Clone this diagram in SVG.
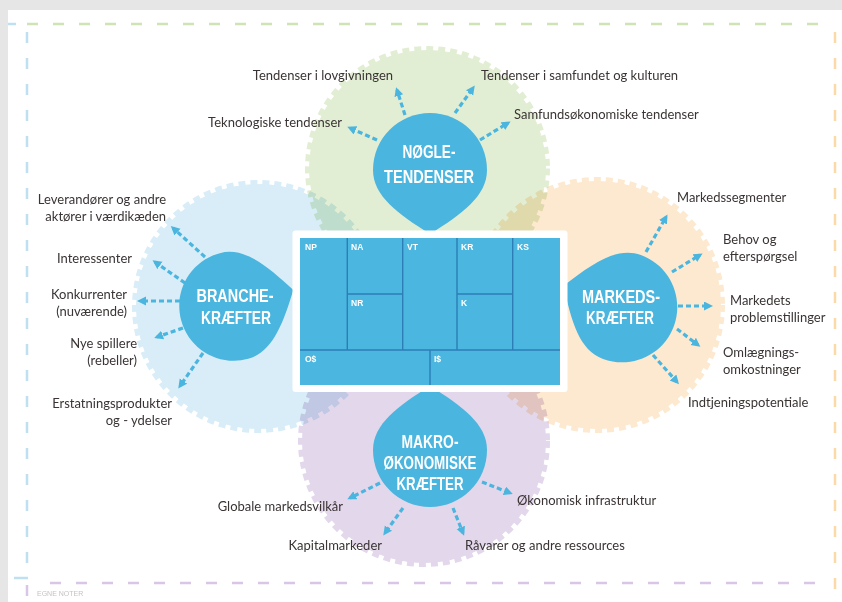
<svg xmlns="http://www.w3.org/2000/svg" width="842" height="602" viewBox="0 0 842 602">
<defs>
<style>
.lbl{font-family:Lato,"Liberation Sans",sans-serif;font-size:13px;fill:#3a3434}
.e{text-anchor:end}
.m{text-anchor:middle}
.dt{font-family:"Liberation Sans Narrow","Liberation Sans",sans-serif;font-weight:bold;font-size:17.5px;fill:#fff;text-anchor:middle}
.cv{font-family:"Liberation Sans",sans-serif;font-weight:bold;font-size:8.5px;fill:#fff}
.arr{fill:none;stroke:#4ab5de;stroke-width:3.2;stroke-dasharray:5 3;marker-end:url(#ah)}
.drop{fill:#4ab5de}
.zone{mix-blend-mode:multiply}
.grid{stroke:#2d7db6;stroke-width:1.4;fill:none}
.bd{fill:none;stroke-width:2.5;stroke-dasharray:11 15}
</style>
<marker id="ah" markerUnits="userSpaceOnUse" markerWidth="10" markerHeight="10" refX="6" refY="4.5" orient="auto"><path d="M0,0 L9,4.5 L0,9 Z" fill="#4ab5de"/></marker>
<path id="dropShape" d="M0,-57 C31.5,-57 57,-31.5 57,0 C57,26 32,44 0,64 C-32,44 -57,26 -57,0 C-57,-31.5 -31.5,-57 0,-57 Z"/>
</defs>
<rect x="0" y="0" width="842" height="602" fill="#e6e6e6"/>
<rect x="8" y="10" width="834" height="592" fill="#ffffff"/>
<g id="border">
<line class="bd" x1="27" y1="24" x2="832" y2="24" stroke="#cfe3b5"/>
<line x1="8" y1="24" x2="16" y2="24" stroke="#bfe0f0" stroke-width="2.5"/>
<line class="bd" x1="27" y1="32" x2="27" y2="572" stroke="#bfe0f0"/>
<line x1="14" y1="578" x2="28" y2="578" stroke="#bfe0f0" stroke-width="2.5"/>
<line class="bd" x1="835" y1="32" x2="835" y2="595" stroke="#fbd9a8"/>
<line class="bd" x1="50" y1="583" x2="830" y2="583" stroke="#d9c6e6"/>
<line x1="27" y1="585" x2="27" y2="596" stroke="#d9c6e6" stroke-width="2.5"/>
<text x="37" y="596" style="font-family:'Liberation Sans',sans-serif;font-size:7px;fill:#c4c4c4">EGNE NOTER</text>
</g>
<g id="zones">
<g class="zone" fill="#e2eed3" stroke="#e2eed3"><circle cx="427.5" cy="168.5" r="118"/><circle cx="427.5" cy="168.5" r="120" fill="none" stroke-width="5" stroke-dasharray="7 5"/></g>
<g class="zone" fill="#d8edf7" stroke="#d8edf7"><circle cx="258.5" cy="306.5" r="122"/><circle cx="258.5" cy="306.5" r="124" fill="none" stroke-width="5" stroke-dasharray="7 5"/></g>
<g class="zone" fill="#fde9cf" stroke="#fde9cf"><circle cx="597" cy="305" r="123.5"/><circle cx="597" cy="305" r="125.5" fill="none" stroke-width="5" stroke-dasharray="7 5"/></g>
<g class="zone" fill="#e3d7eb" stroke="#e3d7eb"><circle cx="424" cy="441" r="121.5"/><circle cx="424" cy="441" r="123.5" fill="none" stroke-width="5" stroke-dasharray="7 5"/></g>
</g>
<g id="labels">
<text class="lbl e" x="393" y="80">Tendenser i lovgivningen</text>
<text class="lbl" x="481" y="80">Tendenser i samfundet og kulturen</text>
<text class="lbl e" x="342" y="127">Teknologiske tendenser</text>
<text class="lbl" x="514" y="119">Samfundsøkonomiske tendenser</text>
<text class="lbl e" x="166" y="204">Leverandører og andre</text>
<text class="lbl e" x="166" y="221">aktører i værdikæden</text>
<text class="lbl e" x="132" y="263">Interessenter</text>
<text class="lbl e" x="127" y="299">Konkurrenter</text>
<text class="lbl e" x="127" y="316">(nuværende)</text>
<text class="lbl e" x="137" y="348">Nye spillere</text>
<text class="lbl e" x="137" y="365">(rebeller)</text>
<text class="lbl e" x="172" y="408">Erstatningsprodukter</text>
<text class="lbl e" x="172" y="425">og - ydelser</text>
<text class="lbl" x="677" y="202">Markedssegmenter</text>
<text class="lbl" x="723" y="244">Behov og</text>
<text class="lbl" x="723" y="261">efterspørgsel</text>
<text class="lbl" x="730" y="305">Markedets</text>
<text class="lbl" x="730" y="322">problemstillinger</text>
<text class="lbl" x="723" y="357">Omlægnings-</text>
<text class="lbl" x="723" y="374">omkostninger</text>
<text class="lbl" x="688" y="407">Indtjeningspotentiale</text>
<text class="lbl e" x="343" y="511">Globale markedsvilkår</text>
<text class="lbl e" x="382" y="550">Kapitalmarkeder</text>
<text class="lbl" x="465" y="550">Råvarer og andre ressources</text>
<text class="lbl" x="517" y="505">Økonomisk infrastruktur</text>
</g>
<g id="connectors">
<line class="arr" x1="405" y1="115" x2="397" y2="90"/>
<line class="arr" x1="455" y1="113" x2="473" y2="88"/>
<line class="arr" x1="377" y1="140" x2="350" y2="128"/>
<line class="arr" x1="480" y1="140" x2="508" y2="123"/>
<line class="arr" x1="205" y1="257" x2="173" y2="228"/>
<line class="arr" x1="185" y1="283" x2="155" y2="262"/>
<line class="arr" x1="180" y1="301" x2="140" y2="301"/>
<line class="arr" x1="183" y1="328" x2="157" y2="337"/>
<line class="arr" x1="203" y1="353" x2="180" y2="386"/>
<line class="arr" x1="646" y1="252" x2="666" y2="217"/>
<line class="arr" x1="672" y1="272" x2="700" y2="255"/>
<line class="arr" x1="678" y1="306" x2="710" y2="306"/>
<line class="arr" x1="677" y1="329" x2="698" y2="345"/>
<line class="arr" x1="653" y1="355" x2="677" y2="382"/>
<line class="arr" x1="380" y1="483" x2="350" y2="498"/>
<line class="arr" x1="403" y1="508" x2="385" y2="533"/>
<line class="arr" x1="453" y1="508" x2="463" y2="533"/>
<line class="arr" x1="482" y1="482" x2="510" y2="493"/>
</g>
<g id="node-noegletendenser">
<use href="#dropShape" class="drop" transform="translate(430,170)"/>
<text class="dt" x="429" y="158" textLength="53" lengthAdjust="spacingAndGlyphs">NØGLE-</text>
<text class="dt" x="429" y="183" textLength="90" lengthAdjust="spacingAndGlyphs">TENDENSER</text>
</g>
<g id="node-branchekraefter">
<use href="#dropShape" class="drop" transform="translate(234,306) rotate(-105) scale(0.96)"/>
<text class="dt" x="235" y="302" textLength="77" lengthAdjust="spacingAndGlyphs">BRANCHE-</text>
<text class="dt" x="236" y="324" textLength="70" lengthAdjust="spacingAndGlyphs">KRÆFTER</text>
</g>
<g id="node-markedskraefter">
<use href="#dropShape" class="drop" transform="translate(622,307) rotate(110) scale(0.97)"/>
<text class="dt" x="621" y="303" textLength="78" lengthAdjust="spacingAndGlyphs">MARKEDS-</text>
<text class="dt" x="620" y="324" textLength="68" lengthAdjust="spacingAndGlyphs">KRÆFTER</text>
</g>
<g id="node-makrooekonomiske">
<use href="#dropShape" class="drop" transform="translate(430,450) rotate(180)"/>
<text class="dt" x="430" y="448" textLength="57" lengthAdjust="spacingAndGlyphs">MAKRO-</text>
<text class="dt" x="430" y="469" textLength="93" lengthAdjust="spacingAndGlyphs">ØKONOMISKE</text>
<text class="dt" x="430" y="490" textLength="67" lengthAdjust="spacingAndGlyphs">KRÆFTER</text>
</g>
<g id="canvas">
<rect x="292.5" y="230.5" width="275" height="161.5" rx="3" fill="#ffffff"/>
<rect x="300" y="238" width="260" height="147" fill="#4bb7e0"/>
<path class="grid" d="M347.3,238 V350 M347.3,294 H402.7 M402.7,238 V350 M457,238 V350 M457,294 H512.7 M512.7,238 V350 M300,350 H560 M430,350 V385"/>
<text class="cv" x="305" y="250">NP</text>
<text class="cv" x="351" y="250">NA</text>
<text class="cv" x="407" y="250">VT</text>
<text class="cv" x="461" y="250">KR</text>
<text class="cv" x="517" y="250">KS</text>
<text class="cv" x="351" y="306">NR</text>
<text class="cv" x="461" y="306">K</text>
<text class="cv" x="305" y="362">O$</text>
<text class="cv" x="434" y="362">I$</text>
</g>
</svg>
